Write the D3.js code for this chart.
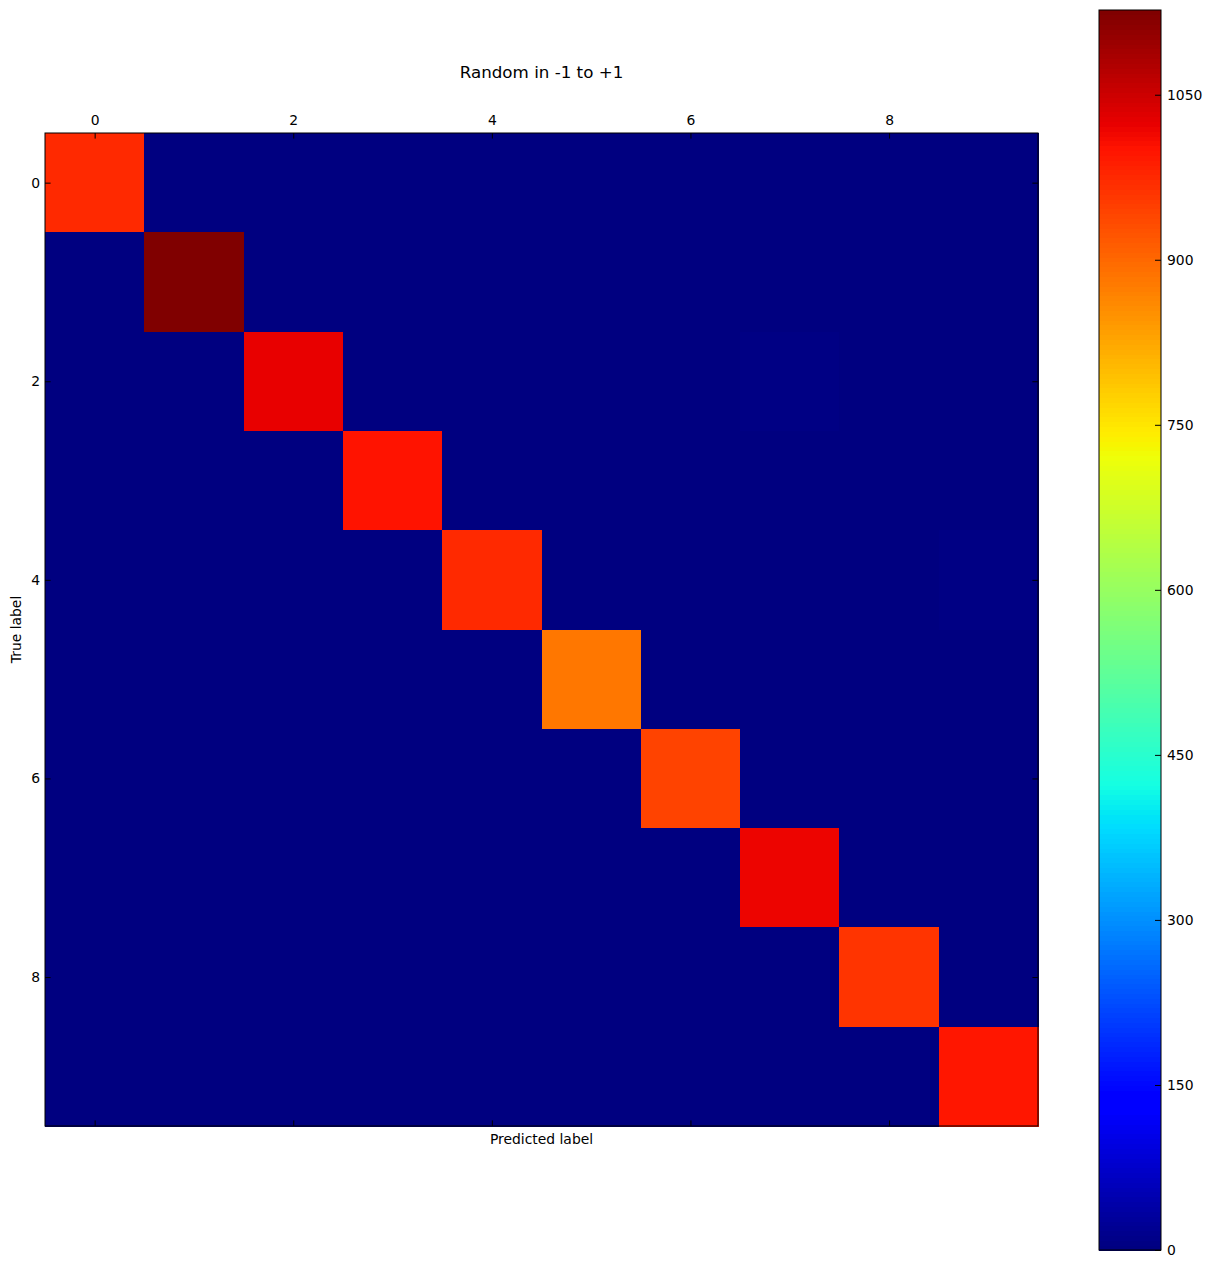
<!DOCTYPE html>
<html>
<head>
<meta charset="utf-8">
<script src="https://cdn.jsdelivr.net/npm/d3@7"></script>
<style>
  body { margin: 0; background: #fff; }
  text { font-family: "DejaVu Sans", sans-serif; fill: #000; }
</style>
</head>
<body>
<svg id="chart" width="1212" height="1267"></svg>
<script>
// ---- data ----
const classes = [0, 1, 2, 3, 4, 5, 6, 7, 8, 9];
const tickLabels = [0, 2, 4, 6, 8];
const colorbarTicks = [0, 150, 300, 450, 600, 750, 900, 1050];
const row0 = [975, 0, 1, 0, 0, 1, 2, 1, 0, 0];
const row1 = [0, 1127, 2, 1, 0, 0, 2, 1, 2, 0];
const row2 = [1, 1, 1022, 0, 0, 0, 0, 7, 1, 0];
const row3 = [0, 0, 2, 1002, 0, 3, 0, 1, 2, 0];
const row4 = [0, 0, 0, 0, 973, 0, 1, 0, 1, 7];
const row5 = [1, 0, 0, 4, 0, 882, 2, 0, 2, 1];
const row6 = [3, 2, 0, 0, 1, 3, 945, 0, 4, 0];
const row7 = [0, 3, 4, 1, 0, 0, 0, 1018, 1, 1];
const row8 = [2, 0, 2, 2, 1, 1, 1, 1, 962, 2];
const row9 = [1, 2, 0, 1, 4, 2, 0, 2, 0, 997];
const matrix = [row0, row1, row2, row3, row4, row5, row6, row7, row8, row9];
const title = "Random in -1 to +1";
const xLabel = "Predicted label";
const yLabel = "True label";

// ---- jet colormap (matplotlib segment data, 256 levels) ----
const jr = d3.scaleLinear().domain([0, 0.35, 0.66, 0.89, 1]).range([0, 0, 1, 1, 0.5]).clamp(true);
const jg = d3.scaleLinear().domain([0, 0.125, 0.375, 0.64, 0.91, 1]).range([0, 0, 1, 1, 0, 0]).clamp(true);
const jb = d3.scaleLinear().domain([0, 0.11, 0.34, 0.65, 1]).range([0.5, 1, 1, 0, 0]).clamp(true);
function jet(t) {
  let i = Math.min(255, Math.max(0, Math.floor(t * 256)));
  const x = i / 255;
  return d3.rgb(Math.round(jr(x) * 255), Math.round(jg(x) * 255), Math.round(jb(x) * 255)).formatHex();
}
const vmin = d3.min(matrix.flat());
const vmax = d3.max(matrix.flat());
const norm = d3.scaleLinear().domain([vmin, vmax]).range([0, 1]);
const color = v => jet(norm(v));

const svg = d3.select("#chart");

// ---- layout ----
const L = 45, R = 1038, T = 133, B = 1126;
const x = d3.scaleBand().domain(classes).range([L, R]).padding(0);
const y = d3.scaleBand().domain(classes).range([T, B]).padding(0);
const tickLen = 5.6;

// cells
const cells = [];
matrix.forEach((row, i) => row.forEach((v, j) => cells.push({ i, j, v })));
svg.append("g").selectAll("rect").data(cells).join("rect")
  .attr("x", d => x(d.j))
  .attr("y", d => y(d.i))
  .attr("width", x.bandwidth() + 0.5)
  .attr("height", y.bandwidth() + 0.5)
  .attr("fill", d => color(d.v))
  .attr("shape-rendering", "crispEdges");

// axes (linear scale at cell centres for ticks)
const xt = d3.scaleLinear().domain([-0.5, 9.5]).range([L, R]);
const yt = d3.scaleLinear().domain([-0.5, 9.5]).range([T, B]);

const axTop = svg.append("g").attr("transform", `translate(0,${T})`)
  .call(d3.axisTop(xt).tickValues(tickLabels).tickFormat(d3.format("d")).tickSizeInner(-tickLen).tickSizeOuter(0).tickPadding(8));
const axBottom = svg.append("g").attr("transform", `translate(0,${B})`)
  .call(d3.axisBottom(xt).tickValues(tickLabels).tickFormat("").tickSizeInner(-tickLen).tickSizeOuter(0));
const axLeft = svg.append("g").attr("transform", `translate(${L},0)`)
  .call(d3.axisLeft(yt).tickValues(tickLabels).tickFormat(d3.format("d")).tickSizeInner(-tickLen).tickSizeOuter(0).tickPadding(5));
const axRight = svg.append("g").attr("transform", `translate(${R},0)`)
  .call(d3.axisRight(yt).tickValues(tickLabels).tickFormat("").tickSizeInner(-tickLen).tickSizeOuter(0));
[axTop, axBottom, axLeft, axRight].forEach(a => {
  a.select(".domain").remove();
  a.selectAll("line").attr("stroke", "#000").attr("stroke-width", 1);
  a.selectAll("text").style("font-family", "DejaVu Sans, sans-serif").style("font-size", "13.9px").attr("fill", "#000");
});

// frame
svg.append("rect").attr("x", L).attr("y", T).attr("width", R - L).attr("height", B - T)
  .attr("fill", "none").attr("stroke", "#000").attr("stroke-width", 1);

// title & labels
svg.append("text").attr("x", (L + R) / 2).attr("y", 78).attr("text-anchor", "middle")
  .style("font-size", "16.7px").text(title);
svg.append("text").attr("x", (L + R) / 2).attr("y", 1144).attr("text-anchor", "middle")
  .style("font-size", "13.9px").text(xLabel);
svg.append("text").attr("transform", `translate(21,${(T + B) / 2}) rotate(-90)`).attr("text-anchor", "middle")
  .style("font-size", "13.9px").text(yLabel);

// ---- colorbar ----
const CL = 1099, CR = 1161, CT = 10, CB = 1250;
const cy = d3.scaleLinear().domain([vmin, vmax]).range([CB, CT]);
const steps = d3.range(256);
svg.append("g").selectAll("rect").data(steps).join("rect")
  .attr("x", CL)
  .attr("width", CR - CL)
  .attr("y", i => cy(vmin + (i + 1) / 256 * (vmax - vmin)))
  .attr("height", i => cy(vmin + i / 256 * (vmax - vmin)) - cy(vmin + (i + 1) / 256 * (vmax - vmin)) + 0.6)
  .attr("fill", i => jet((i + 0.5) / 256))
  .attr("shape-rendering", "crispEdges");

const axCb = svg.append("g").attr("transform", `translate(${CR},0)`)
  .call(d3.axisRight(cy).tickValues(colorbarTicks).tickFormat(d3.format("d")).tickSizeInner(-6).tickSizeOuter(0).tickPadding(6));
axCb.select(".domain").remove();
axCb.selectAll("line").attr("stroke", "#000");
axCb.selectAll("text").style("font-family", "DejaVu Sans, sans-serif").style("font-size", "13.9px").attr("fill", "#000");

svg.append("rect").attr("x", CL).attr("y", CT).attr("width", CR - CL).attr("height", CB - CT)
  .attr("fill", "none").attr("stroke", "#000").attr("stroke-width", 1);
</script>
</body>
</html>
